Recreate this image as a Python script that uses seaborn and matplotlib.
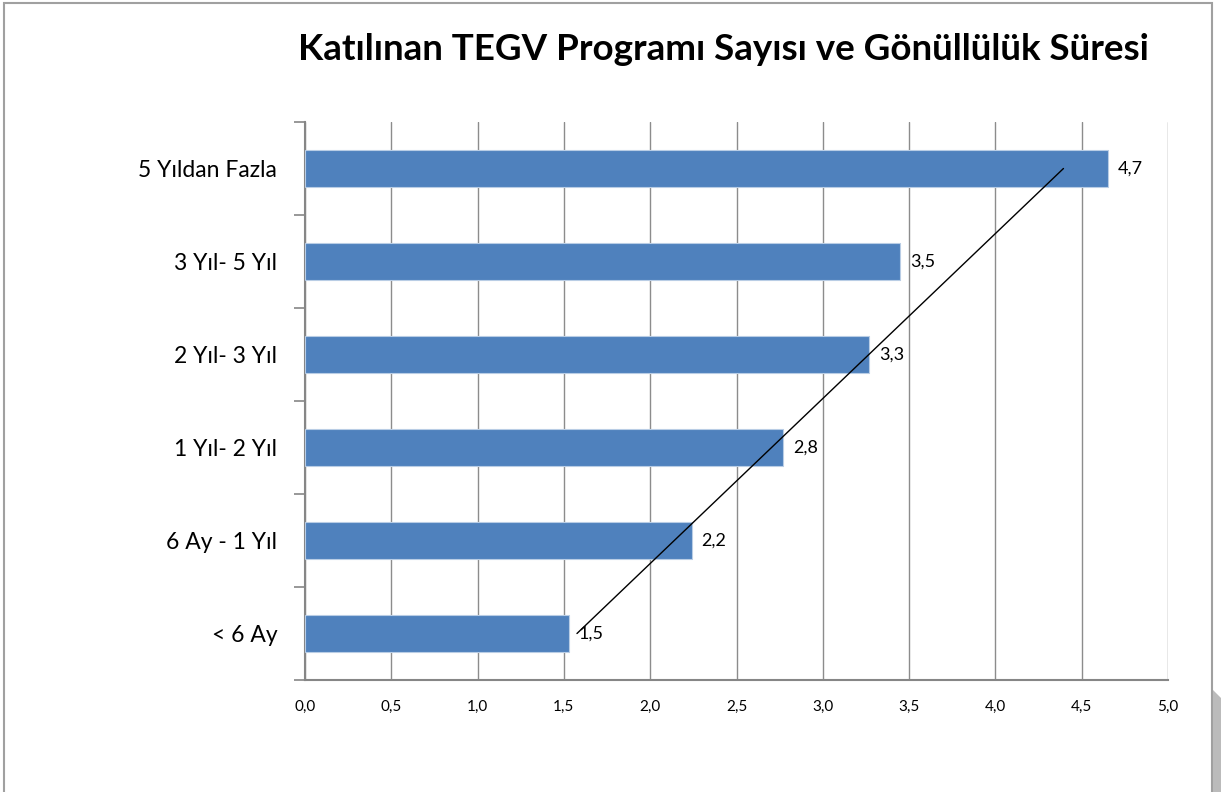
import matplotlib
matplotlib.use("Agg")
import matplotlib.pyplot as plt
import seaborn as sns
import numpy as np
import pandas as pd
from matplotlib.patches import Rectangle, Polygon

categories = ["5 Yıldan Fazla", "3 Yıl- 5 Yıl", "2 Yıl- 3 Yıl", "1 Yıl- 2 Yıl", "6 Ay - 1 Yıl", "< 6 Ay"]
values = [4.65, 3.45, 3.27, 2.77, 2.24, 1.53]
xticks = [0.0, 0.5, 1.0, 1.5, 2.0, 2.5, 3.0, 3.5, 4.0, 4.5, 5.0]
title = "Katılınan TEGV Programı Sayısı ve Gönüllülük Süresi"

sns.set_theme(style="white")
plt.rcParams['font.family'] = ['Lato', 'DejaVu Sans']
plt.rcParams['text.color'] = 'black'

fig = plt.figure(figsize=(12.21, 7.92), dpi=100)
ax = fig.add_axes([305/1221, 1-680/792, (1168-305)/1221, (680-122)/792])

df = pd.DataFrame({"cat": categories, "val": values})
sns.barplot(data=df, x="val", y="cat", orient="h", color="#4F81BD", saturation=1,
            width=0.39, edgecolor="#B9CDE5", linewidth=0.8, ax=ax, zorder=3)

ax.set_xlim(0, 5)
ax.set_ylim(5.5, -0.5)
ax.set_xticks(xticks)
ax.set_xticklabels([f"{t:.1f}".replace(".", ",") for t in xticks], fontsize=11)
ax.tick_params(axis="x", length=6, width=1.2, color="#868686", pad=8, labelcolor="black")
ax.tick_params(axis="y", which="major", length=0, pad=20, labelsize=16.5, labelcolor="black")
ax.set_yticks(np.arange(-0.5, 6.0, 1.0), minor=True)
ax.tick_params(axis="y", which="minor", length=8, width=1.2, color="#868686", left=True)
ax.set_xlabel("")
ax.set_ylabel("")

ax.grid(axis="x", color="#8C8C8C", linewidth=1.0, zorder=0)
ax.set_axisbelow(True)
for s in ["top", "right"]:
    ax.spines[s].set_visible(False)
for s in ["left", "bottom"]:
    ax.spines[s].set_color("#868686")
    ax.spines[s].set_linewidth(1.5)

for i, v in enumerate(values):
    ax.annotate(f"{v:.1f}".replace(".", ","), xy=(v, i), xytext=(7, 0),
                textcoords="offset points", va="center", ha="left", fontsize=13, color="black", zorder=5)

# linear trendline (Excel style) from bottom category to top
idx = np.arange(1, len(values) + 1)
vals_bottom_up = np.array(values[::-1])
coef = np.polyfit(idx, vals_bottom_up, 1)
trend = np.polyval(coef, idx)
ypos = np.arange(len(values))[::-1]
ax.plot(trend, ypos, color="black", linewidth=1.0, zorder=6)

fig.text(723/1221, 1-50/792, title, ha="center", va="center", fontsize=26.5,
         fontweight="bold", color="black")

# chart frame
fig.patches.append(Rectangle((4/1221, -0.1), (1212-4)/1221, (792+80-4)/792,
                             transform=fig.transFigure, fill=False, edgecolor="#A0A0A0", linewidth=1.5))
fig.patches.append(Polygon([(1213/1221, 1-690/792), (1221/1221, 1-698/792), (1221/1221, 0), (1213/1221, 0)],
                           closed=True, transform=fig.transFigure, facecolor="#BBBBBB", edgecolor="none"))

fig.savefig("out.png", dpi=100)
